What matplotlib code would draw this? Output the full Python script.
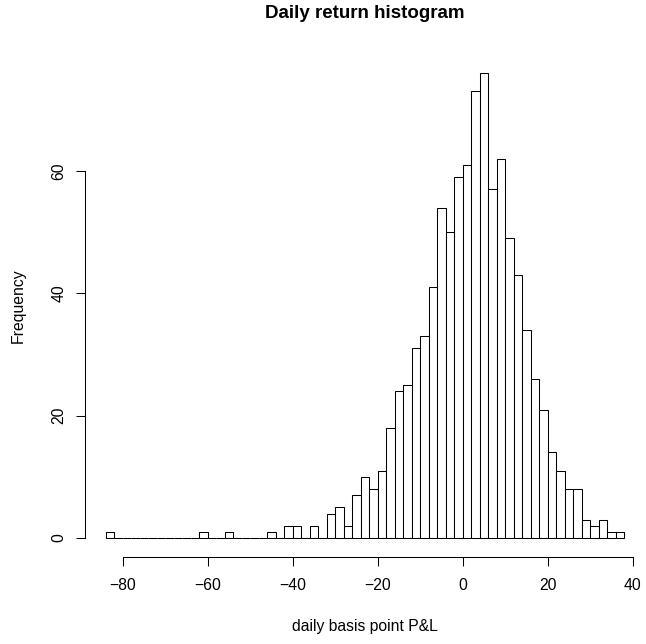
import matplotlib
matplotlib.use("Agg")
import matplotlib.pyplot as plt
import numpy as np

plt.rcParams['font.family'] = ['Liberation Sans', 'DejaVu Sans']

# histogram of daily basis point P&L, bins of width 2 from -84 to 38
bin_edges = np.arange(-84, 40, 2)
counts = [1, 0, 0, 0, 0, 0, 0, 0, 0, 0, 0, 1, 0, 0, 1, 0, 0, 0, 0, 1,
          0, 2, 2, 0, 2, 0, 4, 5, 2, 7, 10, 8, 11, 18, 24, 25, 31, 33, 41, 54,
          50, 59, 61, 73, 76, 57, 62, 49, 43, 34, 26, 21, 14, 11, 8, 8, 3, 2, 3, 1,
          1]
x_ticks = [-80, -60, -40, -20, 0, 20, 40]
y_ticks = [0, 20, 40, 60]

fig = plt.figure(figsize=(6.46, 6.44), dpi=100)
ax = fig.add_axes([85 / 646, 87.4 / 644, 560 / 646, 502.1 / 644])

ax.bar(bin_edges[:-1], counts, width=2, align='edge',
       facecolor='white', edgecolor='black', linewidth=0.75)

lo, hi = bin_edges[0], bin_edges[-1]
pad = 0.04 * (hi - lo)
ax.set_xlim(lo - pad, hi + pad)
ytop = max(counts)
ax.set_ylim(-0.04 * ytop, ytop * 1.04)

for s in ['top', 'right']:
    ax.spines[s].set_visible(False)
ax.spines['bottom'].set_bounds(x_ticks[0], x_ticks[-1])
ax.spines['left'].set_bounds(y_ticks[0], y_ticks[-1])
ax.spines['bottom'].set_linewidth(0.75)
ax.spines['left'].set_linewidth(0.75)

ax.set_xticks(x_ticks)
ax.set_yticks(y_ticks)
ax.set_xticklabels([str(v).replace('-', '\u2212') for v in x_ticks])
ax.set_yticklabels([str(v) for v in y_ticks], rotation=90, va='center')
ax.tick_params(direction='out', length=6.5, width=0.75, labelsize=11.3)
ax.tick_params(axis='x', pad=9)
ax.tick_params(axis='y', pad=7)

ax.set_xlabel('daily basis point P&L', fontsize=11.3, va='center')
ax.set_ylabel('Frequency', fontsize=11.3, va='center')
ax.xaxis.set_label_coords(0.5, -0.140)
ax.yaxis.set_label_coords(-0.1196, 0.5)
fig.text(365 / 646, 1 - 14 / 644, 'Daily return histogram', ha='center', va='center',
         fontsize=13.5, fontweight='bold')

fig.savefig('out.png', dpi=100)
